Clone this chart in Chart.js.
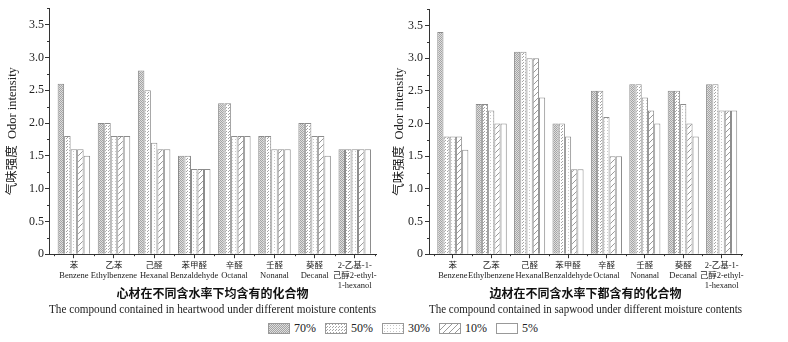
<!DOCTYPE html>
<html>
<head>
<meta charset="utf-8">
<script src="https://cdn.jsdelivr.net/npm/chart.js@4.4.0/dist/chart.umd.min.js"></script>
<style>
  body { margin: 0; background: #fff; }
  #wrap { position: relative; width: 788px; height: 342px; overflow: hidden; }
  #leftChart { position: absolute; left: 0; top: 0; }
  #rightChart { position: absolute; left: 390px; top: 0; }
  #legend { position: absolute; left: 268px; top: 321px; display: flex; font: 12px 'Liberation Serif', serif; color: #222; }
  .item { display: flex; align-items: center; width: 57px; }
  .sw { width: 22px; height: 11px; border: 1px solid #999; box-sizing: border-box; margin-right: 4px; }
</style>
</head>
<body>
<div id="wrap">
  <canvas id="leftChart" width="380" height="320"></canvas>
  <canvas id="rightChart" width="362" height="320"></canvas>
  <div id="legend"></div>
</div>
<script>
// Category labels (Chinese / English lines)
const categoryLabels = [
    ['苯', 'Benzene'],
    ['乙苯', 'Ethylbenzene'],
    ['己醛', 'Hexanal'],
    ['苯甲醛', 'Benzaldehyde'],
    ['辛醛', 'Octanal'],
    ['壬醛', 'Nonanal'],
    ['葵醛', 'Decanal'],
    ['2-乙基-1-', '己醇2-ethyl-', '1-hexanol']
];
const moistureLabels = ['70%', '50%', '30%', '10%', '5%'];
const yTicks = [0, 0.5, 1.0, 1.5, 2.0, 2.5, 3.0, 3.5];

// Heartwood values
const heart70 = [2.6, 2.0, 2.8, 1.5, 2.3, 1.8, 2.0, 1.6];
const heart50 = [1.8, 2.0, 2.5, 1.5, 2.3, 1.8, 2.0, 1.6];
const heart30 = [1.6, 1.8, 1.7, 1.3, 1.8, 1.6, 1.8, 1.6];
const heart10 = [1.6, 1.8, 1.6, 1.3, 1.8, 1.6, 1.8, 1.6];
const heart5  = [1.5, 1.8, 1.6, 1.3, 1.8, 1.6, 1.5, 1.6];

// Sapwood values
const sap70 = [3.4, 2.3, 3.1, 2.0, 2.5, 2.6, 2.5, 2.6];
const sap50 = [1.8, 2.3, 3.1, 2.0, 2.5, 2.6, 2.5, 2.6];
const sap30 = [1.8, 2.2, 3.0, 1.8, 2.1, 2.4, 2.3, 2.2];
const sap10 = [1.8, 2.0, 3.0, 1.3, 1.5, 2.2, 2.0, 2.2];
const sap5  = [1.6, 2.0, 2.4, 1.3, 1.5, 2.0, 1.8, 2.2];

const serif = "'Liberation Serif', 'Noto Sans CJK SC', serif";
const axisColor = '#333';

// Fill patterns for the moisture series
function makeTile(size, draw) {
    const c = document.createElement('canvas');
    c.width = c.height = size;
    const g = c.getContext('2d');
    g.fillStyle = '#fff';
    g.fillRect(0, 0, size, size);
    draw(g, size);
    return c;
}
const tiles = [
    makeTile(2, g => { g.fillStyle = '#dedede'; g.fillRect(0, 0, 2, 2); g.fillStyle = '#a4a4a4'; g.fillRect(0, 0, 1, 1); g.fillRect(1, 1, 1, 1); }),
    makeTile(3, g => { g.fillStyle = '#a4a4a4'; g.fillRect(0, 0, 1, 1); g.fillRect(1, 2, 1, 1); }),
    makeTile(3, g => { g.fillStyle = '#c8c8c8'; g.fillRect(1, 1, 1, 1); }),
    makeTile(6, g => { g.fillStyle = '#9a9a9a'; for (let i = 0; i < 6; i++) g.fillRect(i, 5 - i, 1, 1); }),
    makeTile(2, g => {})
];
const ctxTmp = document.createElement('canvas').getContext('2d');
const fills = tiles.map(t => ctxTmp.createPattern(t, 'repeat'));

// Legend
const legend = document.getElementById('legend');
moistureLabels.forEach((lab, i) => {
    const item = document.createElement('div');
    item.className = 'item';
    item.innerHTML = `<span class="sw" style="background-image:url(${tiles[i].toDataURL()})"></span><span>${lab}</span>`;
    legend.appendChild(item);
});

// Minor tick marks on both axes
const minorTicks = {
    id: 'minorTicks',
    afterDraw(chart) {
        const { ctx, chartArea } = chart;
        const x = chart.scales.x, y = chart.scales.y;
        ctx.save();
        ctx.strokeStyle = axisColor;
        ctx.lineWidth = 1;
        ctx.beginPath();
        for (let v = 0.25; v < 3.8; v += 0.5) {
            const py = Math.round(y.getPixelForValue(v)) + 0.5;
            ctx.moveTo(chartArea.left - 2, py);
            ctx.lineTo(chartArea.left, py);
        }
        for (let k = -0.5; k < 7.6; k += 1) {
            const px = Math.round(x.getPixelForValue(k)) + 0.5;
            ctx.moveTo(px, chartArea.bottom);
            ctx.lineTo(px, chartArea.bottom + 2);
        }
        ctx.stroke();
        ctx.restore();
    }
};

function buildChart(id, series, title, subtitle, axisWidth, tickPad, padRight) {
    const datasets = series.map((vals, i) => ({
        label: moistureLabels[i],
        data: vals.map((v, j) => ({ x: j, y: v })),
        backgroundColor: fills[i],
        borderColor: '#8c8c8c',
        borderWidth: 1,
        categoryPercentage: 0.81,
        barPercentage: 1
    }));
    return new Chart(document.getElementById(id), {
        type: 'bar',
        data: { datasets },
        plugins: [minorTicks],
        options: {
            responsive: false,
            animation: false,
            layout: { padding: { top: 8, right: padRight, bottom: 3, left: 0 } },
            plugins: {
                legend: { display: false },
                tooltip: { enabled: false },
                title: {
                    display: true, position: 'bottom', fullSize: false, weight: 1000,
                    text: title, color: '#111', padding: { top: -5, bottom: 0 },
                    font: { family: "'Noto Sans CJK SC'", size: 12, weight: 'bold', lineHeight: 1.35 }
                },
                subtitle: {
                    display: true, position: 'bottom', fullSize: false, weight: 1500,
                    text: subtitle, color: '#222', padding: 0,
                    font: { family: serif, size: 13, lineHeight: 1.2 }
                }
            },
            scales: {
                x: {
                    type: 'linear', min: -0.62, max: 7.53, offset: false,
                    grid: { offset: false, drawOnChartArea: false, tickLength: 4, color: axisColor },
                    border: { color: axisColor, width: 1 },
                    ticks: {
                        stepSize: 1, includeBounds: false, autoSkip: false, maxRotation: 0,
                        padding: 2, color: '#222',
                        font: { family: serif, size: 8.5, lineHeight: 1.22 },
                        callback: v => {
                            const i = Math.round(v);
                            return Math.abs(v - i) < 1e-6 && categoryLabels[i] ? categoryLabels[i] : '';
                        }
                    },
                    afterFit: s => { s.height = 36; }
                },
                y: {
                    min: 0, max: 3.75,
                    grid: { drawOnChartArea: false, tickLength: 4, color: axisColor },
                    border: { color: axisColor, width: 1 },
                    ticks: {
                        stepSize: 0.5, padding: tickPad, color: '#222',
                        font: { family: serif, size: 12 },
                        callback: v => v === 0 ? '0' : v.toFixed(1)
                    },
                    afterBuildTicks: s => { s.ticks = s.ticks.filter(t => yTicks.includes(t.value)); },
                    title: {
                        display: true, text: '气味强度  Odor intensity', color: '#222',
                        font: { family: serif, size: 12.5 }, padding: { top: axisWidth > 45 ? 5 : 2, bottom: 0 }
                    },
                    afterFit: s => { s.width = axisWidth; }
                }
            }
        }
    });
}

buildChart('leftChart', [heart70, heart50, heart30, heart10, heart5],
    '心材在不同含水率下均含有的化合物',
    'The compound contained in heartwood under different moisture contents', 49, 1, 4);
buildChart('rightChart', [sap70, sap50, sap30, sap10, sap5],
    '边材在不同含水率下都含有的化合物',
    'The compound contained in sapwood under different moisture contents', 39, 2, 10);
</script>
</body>
</html>
